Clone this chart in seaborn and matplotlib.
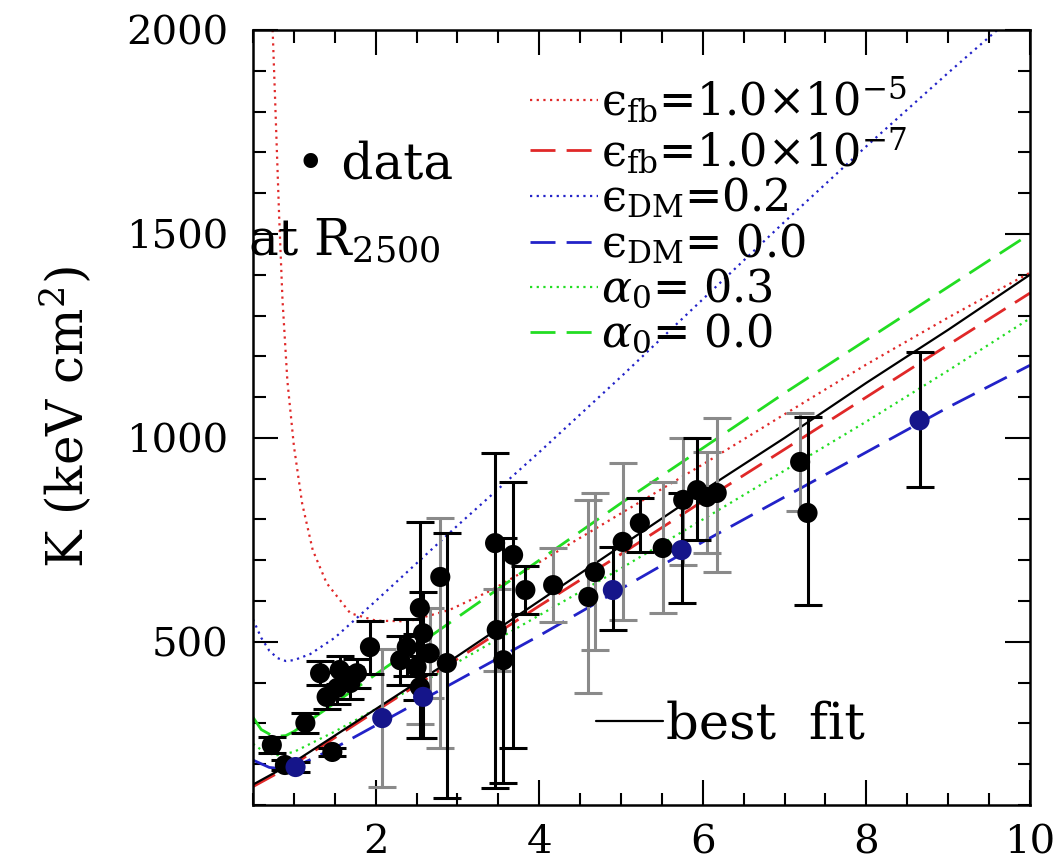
import numpy as np
import pandas as pd
import matplotlib
matplotlib.use("Agg")
import matplotlib.pyplot as plt
from matplotlib.lines import Line2D
from matplotlib.ticker import MultipleLocator
import seaborn as sns

# ---------------- data ----------------
# best fit (black solid)
x_best = [0.5, 1, 2, 3, 4, 5, 6, 7, 8, 9, 10]
k_best = [150, 205, 335, 465, 600, 735, 870, 1000, 1135, 1265, 1400]

# eps_fb = 1e-7 (red dashed)
x_fb7 = [0.5, 1, 2, 3, 4, 5, 6, 7, 8, 9, 10]
k_fb7 = [145, 200, 330, 458, 588, 715, 845, 972, 1100, 1228, 1355]

# eps_fb = 1e-5 (red dotted)
x_fb5 = [0.74, 0.77, 0.82, 0.86, 0.92, 1.0, 1.1, 1.23, 1.4, 1.69, 2.0, 2.4,
         2.9, 3.4, 3.9, 4.5, 5, 6, 7, 8, 9, 10]
k_fb5 = [2000, 1830, 1540, 1340, 1140, 980, 840, 725, 644, 570, 552, 550,
         578, 625, 683, 755, 815, 935, 1058, 1180, 1295, 1405]

# eps_DM = 0.2 (blue dotted)
x_dm2 = [0.5, 0.6, 0.7, 0.8, 0.9, 1.0, 1.2, 1.5, 2, 3, 4, 5, 6, 7, 8, 9, 9.6]
k_dm2 = [555, 510, 478, 460, 453, 455, 470, 510, 600, 785, 965, 1150, 1340,
         1530, 1715, 1895, 2000]

# eps_DM = 0.0 (blue dashed)
x_dm0 = [0.5, 0.7, 0.9, 1, 1.5, 2, 3, 4, 5, 6, 7, 8, 9, 10]
k_dm0 = [210, 192, 188, 192, 240, 295, 405, 515, 630, 745, 855, 965, 1075, 1178]

# alpha_0 = 0.3 (green dotted)
x_a3 = [0.5, 0.65, 0.8, 1, 1.5, 2, 3, 4, 5, 6, 7, 8, 9, 10]
k_a3 = [250, 228, 222, 230, 280, 335, 450, 565, 680, 800, 920, 1040, 1165, 1293]

# alpha_0 = 0.0 (green dashed)
x_a0 = [0.5, 0.6, 0.75, 0.9, 1, 1.5, 2, 3, 4, 5, 6, 7, 8, 9, 10]
k_a0 = [315, 285, 268, 270, 280, 350, 420, 560, 700, 840, 975, 1110, 1240, 1370, 1500]

# data points at R2500
data_T = [0.73, 0.89, 1.02, 1.14, 1.47, 1.32, 1.40, 1.53, 1.56, 1.69, 1.77, 1.93,
          2.08, 2.30, 2.38, 2.50, 2.54, 2.58, 2.66, 2.54, 2.58, 2.79, 2.87,
          3.46, 3.68, 3.56, 3.48, 3.83, 4.17, 4.60, 4.68, 4.90, 5.02, 5.23,
          5.51, 5.74, 5.76, 5.93, 6.05, 6.17, 7.19, 7.28, 8.65]
data_K = [247, 198, 193, 301, 230, 423, 365, 387, 431, 399, 423, 487,
          313, 455, 487, 438, 583, 521, 472, 389, 365, 659, 448,
          742, 713, 455, 529, 627, 639, 610, 671, 627, 745, 791,
          730, 725, 848, 872, 855, 865, 941, 816, 1043]
err_lo = [20, 12, 12, 25, 10, 30, 30, 40, 35, 40, 35, 65,
          170, 60, 70, 80, 320, 100, 110, 90, 100, 420, 330,
          600, 473, 300, 100, 60, 90, 236, 190, 98, 192, 71,
          160, 130, 160, 122, 137, 194, 120, 226, 163]
err_hi = [20, 12, 12, 25, 10, 30, 30, 40, 35, 40, 35, 65,
          170, 60, 70, 80, 210, 100, 110, 90, 100, 145, 320,
          220, 180, 300, 100, 60, 90, 238, 194, 105, 193, 61,
          162, 140, 151, 127, 110, 184, 120, 235, 167]
err_kind = ["k", "k", "k", "k", "k", "k", "k", "k", "k", "k", "k", "k",
            "g", "k", "k", "k", "k", "k", "g", "g", "k", "g", "k",
            "k", "k", "k", "g", "k", "g", "g", "g", "k", "g", "k",
            "g", "k", "g", "k", "g", "g", "g", "k", "k"]
pt_kind = ["k", "k", "b", "k", "k", "k", "k", "k", "k", "k", "k", "k",
           "b", "k", "k", "k", "k", "k", "k", "k", "b", "k", "k",
           "k", "k", "k", "k", "k", "k", "k", "k", "b", "k", "k",
           "k", "b", "k", "k", "k", "k", "k", "k", "b"]

# ---------------- styling ----------------
sns.set_style("ticks")
plt.rcParams["font.family"] = ["DejaVu Serif", "DejaVu Sans"]
plt.rcParams["mathtext.fontset"] = "dejavuserif"
plt.rcParams["text.color"] = "black"
plt.rcParams["axes.labelcolor"] = "black"
plt.rcParams["xtick.color"] = "black"
plt.rcParams["ytick.color"] = "black"

RED = "#e02828"
BLUE = "#2222c8"
GREEN = "#22dd22"
GREY = "#8a8a8a"
DBLUE = "#15158a"

fig = plt.figure(figsize=(10.64, 8.65), dpi=100)
ax = fig.add_axes([0.2378, 0.0694, 0.7302, 0.8959])

dotted = (0, (1, 2))
dashed = (0, (9, 4))

lines = [
    (x_fb5, k_fb5, RED, dotted, 1.6),
    (x_dm2, k_dm2, BLUE, dotted, 1.6),
    (x_a3, k_a3, GREEN, dotted, 1.6),
    (x_a0, k_a0, GREEN, dashed, 2.0),
    (x_dm0, k_dm0, BLUE, dashed, 2.0),
    (x_fb7, k_fb7, RED, dashed, 2.0),
    (x_best, k_best, "black", "-", 1.6),
]
for xs, ks, col, ls, lw in lines:
    df = pd.DataFrame({"T": xs, "K": ks})
    sns.lineplot(data=df, x="T", y="K", ax=ax, color=col, linestyle=ls,
                 linewidth=lw, estimator=None, sort=False, legend=False)

pts = pd.DataFrame({"T": data_T, "K": data_K, "lo": err_lo, "hi": err_hi,
                    "ek": err_kind, "pk": pt_kind})
for kind, col in [("g", GREY), ("k", "black")]:
    sub = pts[pts["ek"] == kind]
    ax.errorbar(sub["T"], sub["K"], yerr=[sub["lo"], sub["hi"]], fmt="none",
                ecolor=col, elinewidth=2.2, capsize=10, capthick=2.2, zorder=3)
for kind, col in [("k", "black"), ("b", DBLUE)]:
    sub = pts[pts["pk"] == kind]
    sns.scatterplot(data=sub, x="T", y="K", ax=ax, color=col, s=210,
                    edgecolor="none", zorder=4, legend=False)

ax.set_xlim(0.5, 10)
ax.set_ylim(100, 2000)
ax.xaxis.set_major_locator(MultipleLocator(2))
ax.xaxis.set_minor_locator(MultipleLocator(0.5))
ax.yaxis.set_major_locator(MultipleLocator(500))
ax.yaxis.set_minor_locator(MultipleLocator(100))
ax.tick_params(which="both", direction="in", top=True, right=True,
               width=1.5, colors="black")
ax.tick_params(which="major", length=18, labelsize=29)
ax.tick_params(which="minor", length=9)
ax.tick_params(axis="x", which="major", pad=14)
ax.tick_params(axis="y", which="major", pad=18)
for sp in ax.spines.values():
    sp.set_linewidth(1.8)
    sp.set_color("black")
    sp.set_visible(True)

ax.set_xlabel("")
ax.set_ylabel("K (keV cm$^2$)", fontsize=36, labelpad=22)

# model legend
handles = [
    Line2D([], [], color=RED, linestyle=dotted, linewidth=1.6),
    Line2D([], [], color=RED, linestyle=dashed, linewidth=2.0),
    Line2D([], [], color=BLUE, linestyle=dotted, linewidth=1.6),
    Line2D([], [], color=BLUE, linestyle=dashed, linewidth=2.0),
    Line2D([], [], color=GREEN, linestyle=dotted, linewidth=1.6),
    Line2D([], [], color=GREEN, linestyle=dashed, linewidth=2.0),
]
labels = [
    "ϵ$_{\\mathrm{fb}}$=1.0×10$^{-5}$",
    "ϵ$_{\\mathrm{fb}}$=1.0×10$^{-7}$",
    "ϵ$_{\\mathrm{DM}}$=0.2",
    "ϵ$_{\\mathrm{DM}}$= 0.0",
    r"$\alpha_0$= 0.3",
    r"$\alpha_0$= 0.0",
]
leg = ax.legend(handles, labels, loc="upper left", bbox_to_anchor=(0.356, 0.942),
                frameon=False, fontsize=32, handlelength=1.55, handletextpad=0.05,
                labelspacing=0.02, borderpad=0, borderaxespad=0)
ax.add_artist(leg)

leg2 = ax.legend([Line2D([], [], color="black", linewidth=1.6)], ["best  fit"],
                 loc="center left", bbox_to_anchor=(0.442, 0.103), frameon=False,
                 fontsize=37, handlelength=1.3, handletextpad=0.05,
                 borderpad=0, borderaxespad=0)

ax.text(0.055, 0.826, "• data", transform=ax.transAxes, fontsize=36,
        ha="left", va="center")
ax.text(-0.006, 0.727, "at R$_{2500}$", transform=ax.transAxes, fontsize=36,
        ha="left", va="center")

fig.savefig("out.png", dpi=100)
